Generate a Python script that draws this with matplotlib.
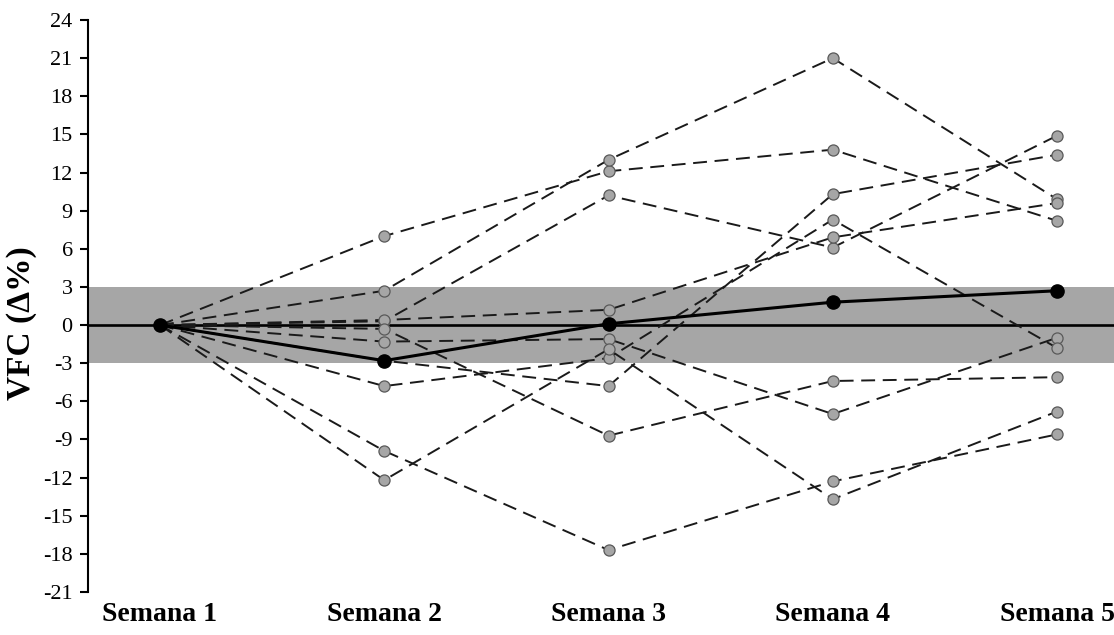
import matplotlib
matplotlib.use("Agg")
import matplotlib.pyplot as plt

plt.rcParams["font.family"] = ["Liberation Serif", "DejaVu Serif"]
plt.rcParams["axes.unicode_minus"] = False
plt.rcParams["lines.scale_dashes"] = False

semanas = ["Semana 1", "Semana 2", "Semana 3", "Semana 4", "Semana 5"]
yticks = list(range(-21, 25, 3))

# Individual change in VFC (Δ%) relative to week 1
sujeto_1 = [0, 7.0, 12.1, 13.8, 8.2]
sujeto_2 = [0, 2.7, 13.0, 21.0, 9.9]
sujeto_3 = [0, 0.3, 10.2, 6.1, 14.9]
sujeto_4 = [0, 0.4, 1.2, 6.9, 9.6]
sujeto_5 = [0, -0.3, -8.7, -4.4, -4.1]
sujeto_6 = [0, -1.3, -1.1, -7.0, -1.0]
sujeto_7 = [0, -2.8, -4.8, 10.3, 13.4]
sujeto_8 = [0, -4.8, -2.6, 8.3, -1.8]
sujeto_9 = [0, -9.9, -17.7, -12.3, -8.6]
sujeto_10 = [0, -12.2, -1.9, -13.7, -6.8]
sujetos = [sujeto_1, sujeto_2, sujeto_3, sujeto_4, sujeto_5,
           sujeto_6, sujeto_7, sujeto_8, sujeto_9, sujeto_10]

# Group mean
media = [0, -2.8, 0.1, 1.8, 2.7]

# Smallest worthwhile change band
banda_inf, banda_sup = -3, 3

x = list(range(1, len(semanas) + 1))

fig = plt.figure(figsize=(11.14, 6.35), dpi=100)
ax = fig.add_axes([0.079, 0.0677, 0.921, 0.9008])

ax.axhspan(banda_inf, banda_sup, color="#a6a6a6", lw=0, zorder=0)
ax.axhline(0, color="black", lw=1.9, zorder=1)

for s in sujetos:
    ax.plot(x, s, color="#1a1a1a", lw=1.4, dashes=(10, 5.5),
            marker="o", markersize=8, markerfacecolor="#a6a6a6",
            markeredgecolor="#595959", markeredgewidth=0.9, zorder=2)

ax.plot(x, media, color="black", lw=2.2, marker="o", markersize=9.5,
        markerfacecolor="black", markeredgecolor="black", zorder=4)

ax.set_xlim(0.679, 5.254)
ax.set_ylim(-21, 24)
ax.set_yticks(yticks)
ax.set_yticklabels([str(t) for t in yticks], fontsize=16)
ax.set_xticks(x)
ax.set_xticklabels(semanas, fontsize=20, fontweight="bold")
ax.tick_params(axis="x", length=0, pad=7)
ax.tick_params(axis="y", direction="out", length=6, width=1.5, pad=5)

for side in ["top", "right", "bottom"]:
    ax.spines[side].set_visible(False)
ax.spines["left"].set_linewidth(1.5)

ax.set_ylabel("VFC (Δ%)", fontsize=24, fontweight="bold")
ax.yaxis.set_label_coords(-0.05, 0.47)

fig.savefig("out.png", dpi=100)
